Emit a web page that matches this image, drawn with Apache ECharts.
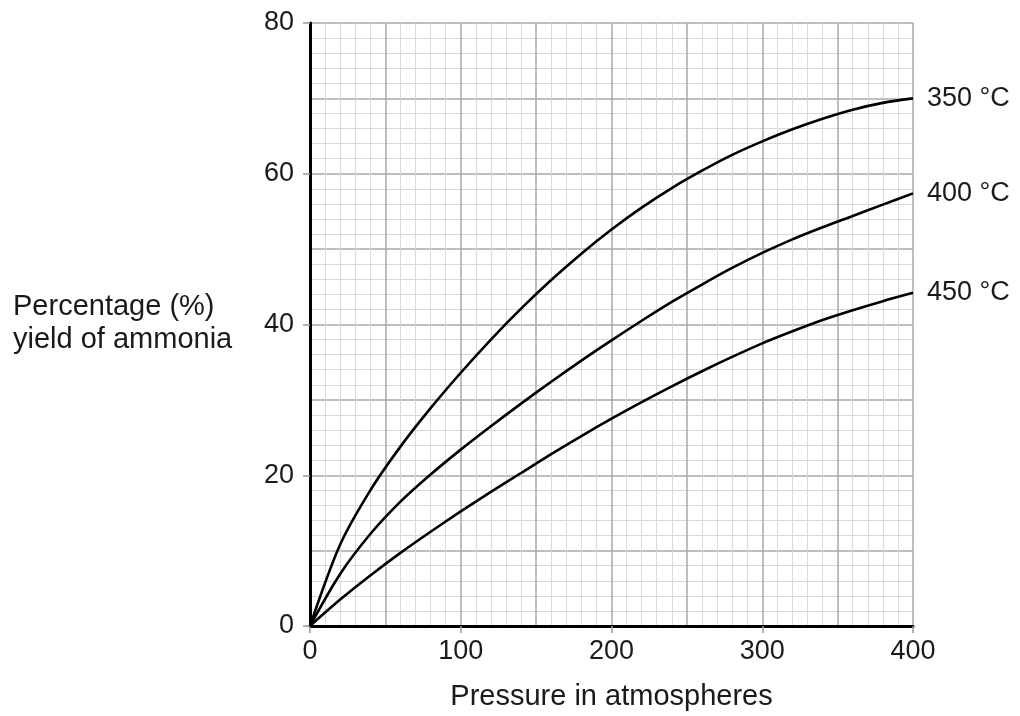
<!DOCTYPE html>
<html>
<head>
<meta charset="utf-8">
<script src="https://cdn.jsdelivr.net/npm/echarts@6/dist/echarts.min.js"></script>
<style>
html,body{margin:0;padding:0;background:#fff;}
#chart{width:1020px;height:716px;}
</style>
</head>
<body>
<div id="chart"></div>
<script>
const pressure = [0, 20, 40, 60, 80, 100, 120, 140, 160, 180, 200, 220, 240, 260, 280, 300, 320, 340, 360, 380, 400];
const yield350 = [0, 10.8, 18.0, 23.8, 28.9, 33.6, 38.0, 42.1, 45.9, 49.4, 52.6, 55.5, 58.1, 60.4, 62.5, 64.3, 65.9, 67.3, 68.5, 69.4, 70.0];
const yield400 = [0, 6.9, 12.2, 16.5, 20.1, 23.4, 26.5, 29.5, 32.4, 35.2, 37.9, 40.5, 43.0, 45.3, 47.5, 49.5, 51.3, 52.9, 54.4, 55.9, 57.4];
const yield450 = [0, 3.5, 6.7, 9.7, 12.5, 15.2, 17.8, 20.3, 22.8, 25.2, 27.5, 29.7, 31.8, 33.8, 35.7, 37.5, 39.1, 40.6, 41.9, 43.1, 44.2];
const seriesNames = ['350 °C', '400 °C', '450 °C'];
const xTitle = 'Pressure in atmospheres';
const yTitle = 'Percentage (%)\nyield of ammonia';

const FONT = "'Liberation Sans', Arial, sans-serif";
const TXT = '#1a1a1a';

function makeSeries(name, values) {
  return {
    name: name,
    type: 'line',
    xAxisIndex: 0,
    yAxisIndex: 0,
    data: pressure.map((p, i) => [p, values[i]]),
    showSymbol: false,
    smooth: 0.3,
    lineStyle: { color: '#000', width: 2.6 },
    z: 5,
    silent: true,
    endLabel: {
      show: true,
      formatter: '{a}',
      distance: 14,
      fontSize: 27,
      fontFamily: FONT,
      color: TXT
    }
  };
}

const chart = echarts.init(document.getElementById('chart'), null, { renderer: 'canvas' });
chart.setOption({
  animation: false,
  backgroundColor: '#fff',
  textStyle: { fontFamily: FONT },
  title: {
    text: yTitle,
    left: 13,
    top: 290,
    padding: 0,
    textStyle: { fontSize: 29, fontWeight: 'normal', color: TXT, fontFamily: FONT, lineHeight: 33 }
  },
  grid: { left: 310, right: 107, top: 23, bottom: 87, containLabel: false },
  xAxis: [
    {
      type: 'value', min: 0, max: 400, interval: 50, position: 'bottom', z: 0,
      axisLine: { show: false }, axisTick: { show: false }, axisLabel: { show: false },
      splitLine: { show: true, lineStyle: { color: '#a8a8a8', width: 1.5 } },
      minorTick: { show: false, splitNumber: 5 },
      minorSplitLine: { show: true, lineStyle: { color: '#d9d9d9', width: 1 } }
    },
    {
      type: 'value', min: 0, max: 400, interval: 100, position: 'bottom', z: 3,
      axisLine: { show: true, onZero: false, lineStyle: { color: '#000', width: 3 } },
      axisTick: { show: true, length: 7, lineStyle: { color: '#999', width: 1.5 } },
      axisLabel: { show: true, fontSize: 27, color: TXT, margin: 12, fontFamily: FONT },
      splitLine: { show: false },
      name: xTitle,
      nameLocation: 'middle',
      nameGap: 56,
      nameTextStyle: { fontSize: 29, color: TXT, fontFamily: FONT }
    }
  ],
  yAxis: [
    {
      type: 'value', min: 0, max: 80, interval: 10, position: 'left', z: 0,
      axisLine: { show: false }, axisTick: { show: false }, axisLabel: { show: false },
      splitLine: { show: true, lineStyle: { color: '#a8a8a8', width: 1.5 } },
      minorTick: { show: false, splitNumber: 5 },
      minorSplitLine: { show: true, lineStyle: { color: '#d9d9d9', width: 1 } }
    },
    {
      type: 'value', min: 0, max: 80, interval: 20, position: 'left', z: 3,
      axisLine: { show: true, onZero: false, lineStyle: { color: '#000', width: 3 } },
      axisTick: { show: true, length: 7, lineStyle: { color: '#999', width: 1.5 } },
      axisLabel: { show: true, fontSize: 27, color: TXT, margin: 16, fontFamily: FONT },
      splitLine: { show: false }
    }
  ],
  series: [
    makeSeries(seriesNames[0], yield350),
    makeSeries(seriesNames[1], yield400),
    makeSeries(seriesNames[2], yield450)
  ]
});
</script>
</body>
</html>
